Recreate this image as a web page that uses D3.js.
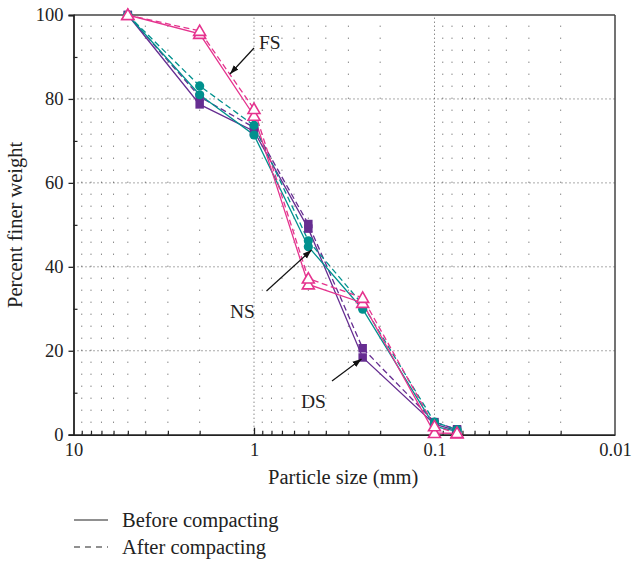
<!DOCTYPE html>
<html>
<head>
<meta charset="utf-8">
<script src="https://cdn.jsdelivr.net/npm/d3@7/dist/d3.min.js"></script>
<style>
  html, body { margin: 0; padding: 0; background: #fff; }
  svg { display: block; }
  text { font-family: "Liberation Serif", "DejaVu Serif", serif; fill: #222; }
</style>
</head>
<body>
<svg id="chart" width="632" height="562"></svg>
<script>
// ---- data ----
const sizes = [5, 2, 1, 0.5, 0.25, 0.1, 0.075];           // particle size (mm)
const dsBefore = [100, 78.7, 72.3, 49.1, 18.4, 2.5, 1.0];
const dsAfter  = [100, 80.5, 73.2, 50.2, 20.6, 3.0, 1.3];
const nsBefore = [100, 81.0, 71.4, 44.8, 29.9, 2.0, 0.8];
const nsAfter  = [100, 83.1, 73.7, 46.2, 31.0, 3.0, 1.2];
const fsBefore = [100, 95.5, 76.0, 35.8, 31.4, 0.4, 0.3];
const fsAfter  = [100, 96.2, 77.6, 37.2, 32.6, 2.0, 0.4];
const xMajorTicks = [10, 1, 0.1, 0.01];
const xTickLabels = ["10", "1", "0.1", "0.01"];
const yMajorTicks = [0, 20, 40, 60, 80, 100];
const yMinorTicks = [10, 30, 50, 70, 90];
const legendLabels = ["Before compacting", "After compacting"];

const colors = { DS: "#662d91", NS: "#00918e", FS: "#e5338e" };

const svg = d3.select("#chart");
const L = 73.5, R = 615, T = 15, B = 434.7;
const x = d3.scaleLog().domain([10, 0.01]).range([L, R]);
const y = d3.scaleLinear().domain([0, 100]).range([B, T]);

// minor x positions
const xMinor = [];
[10, 1, 0.1].forEach(dec => { for (let k = 9; k >= 2; k--) xMinor.push(dec * k / 10); });

// ---- grid ----
const grid = svg.append("g");
grid.selectAll(".vminor").data(xMinor).join("line")
  .attr("x1", d => x(d)).attr("x2", d => x(d))
  .attr("y1", B).attr("y2", T)
  .attr("stroke", "#555").attr("stroke-width", 1)
  .attr("stroke-dasharray", "1,11");
grid.selectAll(".hmajor").data([20, 40, 60, 80]).join("line")
  .attr("x1", L).attr("x2", R)
  .attr("y1", d => y(d)).attr("y2", d => y(d))
  .attr("stroke", "#555").attr("stroke-width", 1)
  .attr("stroke-dasharray", "1,3");
grid.selectAll(".vmajor").data([1, 0.1]).join("line")
  .attr("x1", d => x(d)).attr("x2", d => x(d))
  .attr("y1", B).attr("y2", T)
  .attr("stroke", "#555").attr("stroke-width", 1)
  .attr("stroke-dasharray", "1,3");

// ---- frame ----
svg.append("line").attr("x1", L).attr("x2", R).attr("y1", T).attr("y2", T)
  .attr("stroke", "#444").attr("stroke-width", 1.5);
svg.append("line").attr("x1", R).attr("x2", R).attr("y1", T).attr("y2", B)
  .attr("stroke", "#444").attr("stroke-width", 1.5);

// ---- axes ----
const fontTick = 18.5;
const yAxis = svg.append("g").attr("transform", `translate(${L},0)`)
  .call(d3.axisLeft(y).tickValues(yMajorTicks).tickSize(5).tickPadding(5).tickFormat(d3.format("d")));
yAxis.select(".domain").attr("stroke", "#222").attr("stroke-width", 1.8);
yAxis.selectAll(".tick line").attr("stroke", "#222").attr("stroke-width", 1.3);
yAxis.selectAll("text").style("font-family", '"Liberation Serif", serif').style("font-size", fontTick + "px").attr("fill", "#222");

const yMinorAxis = svg.append("g").attr("transform", `translate(${L},0)`)
  .call(d3.axisRight(y).tickValues(yMinorTicks).tickSize(4).tickFormat(""));
yMinorAxis.select(".domain").remove();
yMinorAxis.selectAll(".tick line").attr("stroke", "#222").attr("stroke-width", 1.2);

const xAxis = svg.append("g").attr("transform", `translate(0,${B})`)
  .call(d3.axisBottom(x).tickValues(xMajorTicks).tickSize(0).tickPadding(8)
    .tickFormat((d, i) => xTickLabels[i]));
xAxis.select(".domain").attr("stroke", "#222").attr("stroke-width", 1.8);
xAxis.selectAll("text").style("font-family", '"Liberation Serif", serif').style("font-size", fontTick + "px").attr("fill", "#222");

const xMinorAxis = svg.append("g").attr("transform", `translate(0,${B})`)
  .call(d3.axisTop(x).tickValues(xMinor).tickSize(4).tickFormat(""));
xMinorAxis.select(".domain").remove();
xMinorAxis.selectAll(".tick line").attr("stroke", "#222").attr("stroke-width", 1.2);
const xMajAxis = svg.append("g").attr("transform", `translate(0,${B})`)
  .call(d3.axisTop(x).tickValues([1, 0.1]).tickSize(7).tickFormat(""));
xMajAxis.select(".domain").remove();
xMajAxis.selectAll(".tick line").attr("stroke", "#222").attr("stroke-width", 1.3);

// axis titles
svg.append("text").attr("x", (L + R) / 2 - 1).attr("y", 484)
  .attr("text-anchor", "middle").style("font-size", "20.5px").text("Particle size (mm)");
svg.append("text").attr("transform", `translate(22,${(T + B) / 2}) rotate(-90)`)
  .attr("text-anchor", "middle").style("font-size", "20.5px").text("Percent finer weight");

// ---- series ----
const series = [
  { key: "DS", vals: dsBefore, dash: null, shape: "square" },
  { key: "DS", vals: dsAfter, dash: "6,3.5", shape: "square" },
  { key: "NS", vals: nsBefore, dash: null, shape: "circle" },
  { key: "NS", vals: nsAfter, dash: "6,3.5", shape: "circle" },
  { key: "FS", vals: fsBefore, dash: null, shape: "triangle" },
  { key: "FS", vals: fsAfter, dash: "6,3.5", shape: "triangle" }
];
const line = d3.line().x(d => x(d[0])).y(d => y(d[1]));
const plot = svg.append("g");
series.forEach(s => {
  const pts = sizes.map((sz, i) => [sz, s.vals[i]]);
  plot.append("path").datum(pts).attr("d", line)
    .attr("fill", "none").attr("stroke", colors[s.key]).attr("stroke-width", 1.3)
    .attr("stroke-dasharray", s.dash);
});
const sym = {
  square: d3.symbol().type(d3.symbolSquare).size(72),
  circle: d3.symbol().type(d3.symbolCircle).size(66),
  triangle: d3.symbol().type(d3.symbolTriangle).size(62)
};
series.forEach(s => {
  const pts = sizes.map((sz, i) => [sz, s.vals[i]]);
  plot.append("g").selectAll("path").data(pts).join("path")
    .attr("transform", d => `translate(${x(d[0])},${y(d[1]) + (s.shape === "triangle" ? 1 : 0)})`)
    .attr("d", sym[s.shape])
    .attr("fill", s.shape === "triangle" ? "#fff" : colors[s.key])
    .attr("stroke", colors[s.key])
    .attr("stroke-width", s.shape === "triangle" ? 1.6 : 0);
});

// ---- annotations ----
svg.append("defs").append("marker").attr("id", "arr")
  .attr("viewBox", "0 0 10 10").attr("refX", 10).attr("refY", 5)
  .attr("markerWidth", 9).attr("markerHeight", 9).attr("markerUnits", "userSpaceOnUse")
  .attr("orient", "auto")
  .append("path").attr("d", "M0,1.5 L10,5 L0,8.5 Z").attr("fill", "#111");
const notes = [
  { t: "FS", tx: 259, ty: 49, x1: 254, y1: 48, x2: 230, y2: 74 },
  { t: "NS", tx: 230, ty: 318, x1: 266.5, y1: 291, x2: 311.5, y2: 250 },
  { t: "DS", tx: 301, ty: 408, x1: 332, y1: 381, x2: 361.5, y2: 359 }
];
notes.forEach(n => {
  svg.append("line").attr("x1", n.x1).attr("y1", n.y1).attr("x2", n.x2).attr("y2", n.y2)
    .attr("stroke", "#111").attr("stroke-width", 1.2).attr("marker-end", "url(#arr)");
  svg.append("text").attr("x", n.tx).attr("y", n.ty).style("font-size", "19.5px").text(n.t);
});

// ---- legend ----
const lg = svg.append("g");
legendLabels.forEach((lab, i) => {
  const yy = 520 + i * 27;
  lg.append("line").attr("x1", 74).attr("x2", 108).attr("y1", yy).attr("y2", yy)
    .attr("stroke", "#222").attr("stroke-width", 1.2)
    .attr("stroke-dasharray", i === 0 ? null : "6,5");
  lg.append("text").attr("x", 122).attr("y", yy + 7).style("font-size", "20.5px").text(lab);
});
</script>
</body>
</html>
